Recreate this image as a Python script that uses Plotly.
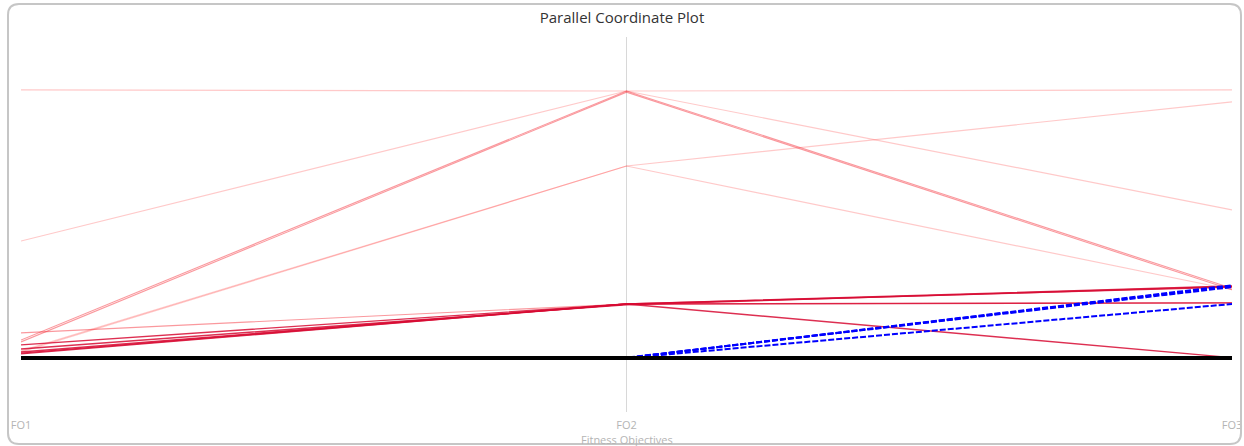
import plotly.graph_objects as go

W, H = 1244, 446
ML, MR, MT, MB = 21, 12, 37, 34

AXES = ["FO1", "FO2", "FO3"]

# objective values per solution (normalised 0-100), one list per colour group
FAINT_RED = [
    [85.9, 85.6, 85.9],
    [45.6, 85.6, 53.9],
    [16.0, 65.6, 82.7],
    [16.3, 65.6, 32.6],
]
MEDIUM_RED = [
    [19.2, 85.6, 33.0],
    [18.7, 85.3, 32.6],
    [21.1, 28.8, 29.1],
]
DARK_RED = [
    [17.9, 28.8, 33.6],
    [15.7, 28.8, 33.3],
    [16.8, 28.6, 33.5],
    [16.0, 28.8, 29.1],
    [15.5, 28.8, 14.5],
]
BLUE = [
    [14.4, 14.4, 33.6],
    [14.4, 14.5, 33.3],
    [14.4, 14.4, 33.8],
    [14.4, 14.4, 28.8],
]
BLACK = [
    [14.4, 14.4, 14.4],
]

fig = go.Figure()


def add_group(rows, color, width, dash="solid"):
    for r in rows:
        fig.add_trace(go.Scatter(
            x=AXES, y=r, mode="lines",
            line=dict(color=color, width=width, dash=dash),
            showlegend=False, hoverinfo="skip",
        ))


add_group(FAINT_RED, "rgba(255,60,60,0.28)", 1.2)
add_group(MEDIUM_RED, "rgba(245,40,50,0.48)", 1.1)
add_group(DARK_RED, "rgba(215,10,50,0.85)", 1.4)
add_group(BLUE, "#0000ff", 2, dash="6px,2px")
add_group(BLACK, "#000000", 4)


# rounded border around the whole chart, drawn in paper coords
def px(x):
    return (x - ML) / (W - ML - MR)


def py(y):
    return (H - MB - y) / (H - MT - MB)


x0, x1, y0, y1, r = 8, 1241, 4, 444, 11
path = (
    f"M {px(x0 + r)},{py(y0)} L {px(x1 - r)},{py(y0)} "
    f"Q {px(x1)},{py(y0)} {px(x1)},{py(y0 + r)} "
    f"L {px(x1)},{py(y1 - r)} Q {px(x1)},{py(y1)} {px(x1 - r)},{py(y1)} "
    f"L {px(x0 + r)},{py(y1)} Q {px(x0)},{py(y1)} {px(x0)},{py(y1 - r)} "
    f"L {px(x0)},{py(y0 + r)} Q {px(x0)},{py(y0)} {px(x0 + r)},{py(y0)} Z"
)
fig.add_shape(type="path", path=path, xref="paper", yref="paper",
              line=dict(color="#c6c6c6", width=2), layer="above")

fig.add_annotation(
    text="Fitness Objectives", x=0.5, y=py(439), xref="paper", yref="paper",
    showarrow=False, yanchor="middle",
    font=dict(size=11, color="#b4b4b4", family="Open Sans"),
)

fig.update_layout(
    width=W, height=H,
    title=dict(text="Parallel Coordinate Plot", x=0.5, xanchor="center",
               y=1 - 18 / H, yanchor="middle",
               font=dict(size=15, color="#333333", family="Open Sans")),
    plot_bgcolor="white", paper_bgcolor="white",
    margin=dict(l=ML, r=MR, t=MT, b=MB),
    xaxis=dict(type="category", range=[0, 2], showgrid=True, automargin=False,
               gridcolor="#d8d8d8", gridwidth=1, zeroline=False,
               showline=False, ticks="outside", ticklen=3,
               tickcolor="rgba(0,0,0,0)",
               tickfont=dict(size=11, color="#b4b4b4", family="Open Sans")),
    yaxis=dict(range=[0, 100], showgrid=False, zeroline=False, automargin=False,
               showticklabels=False, showline=False),
)

fig.write_html(
    "out.html",
    config={"displayModeBar": False},
    post_script=(
        "document.body.style.margin='0';"
        "document.body.style.overflow='hidden';"
    ),
)
